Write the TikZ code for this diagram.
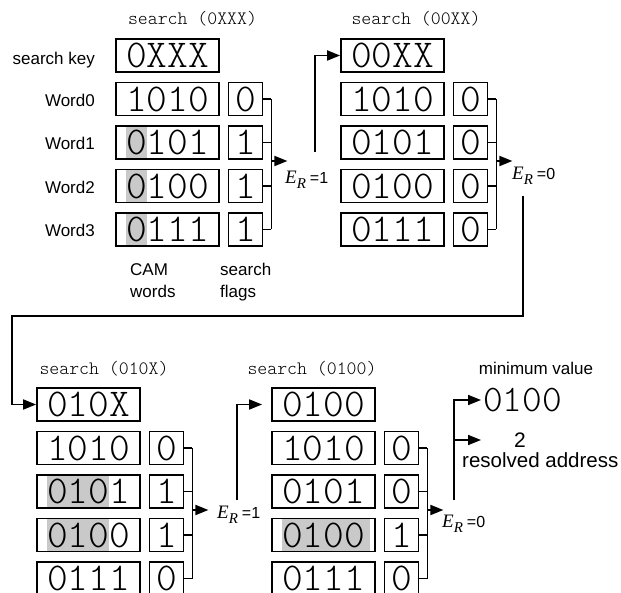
\documentclass[tikz,border=0pt]{standalone}
\usepackage{fontspec}
\setmainfont{Liberation Sans}
\newfontfamily\erfont{Liberation Serif}
\newfontfamily\camfamily{Latin Modern Mono Light}
\usetikzlibrary{arrows.meta}

% fonts
\newcommand\camfont{\camfamily\fontsize{39.4}{40}\selectfont}
\newcommand\resfont{\camfamily\fontsize{37.5}{38}\selectfont}
\newcommand\titlefont{\camfamily\fontsize{18.9}{20}\selectfont}
\newcommand\lblfont{\fontsize{17}{20}\selectfont}
\newcommand\er[1]{{\erfont\itshape\fontsize{19}{19}\selectfont E\raisebox{-4.5pt}{\fontsize{15}{15}\selectfont R}}\hspace{4pt}{\fontsize{16}{16}\selectfont =#1}}

% one CAM search step: #1 name prefix, #2 left x, #3 top y, #4 search key,
% #5 list of word/flag/shaded-width
\newcommand\campanel[5]{%
  \node[wordbox] (#1k) at (#2+51.5,#3+16.5) {#4};
  \foreach \w/\f/\h [count=\i from 0] in {#5} {
    \pgfmathsetmacro\cy{#3+16.5+43.5*(\i+1)}
    \ifdim\h pt>0pt
      \fill[hit] (#2+51.5-41.4,\cy-15.6) rectangle ++(\h,31.2);
    \fi
    \node[wordbox] (#1w\i) at (#2+51.5,\cy) {\w};
    \node[flagbox] (#1f\i) at (#2+129.5,\cy) {\f};
    \draw[wire] (#1f\i.east) -- ++(8,0) coordinate (#1t\i);
  }
  \draw[wire] (#1t0) -- (#1t3);
  \path (#1t1) ++(0,18.5) coordinate (#1bo) ++(16,0) coordinate (#1ao);
  \draw[conn] (#1bo) -- (#1ao);
}

\begin{document}
\begin{tikzpicture}[
  x=1pt, y=-1pt,
  wire/.style={line width=1.8pt},
  conn/.style={line width=1.8pt, -{Triangle[length=13pt,width=10pt]}},
  wordbox/.style={draw, line width=1.8pt, minimum width=103pt, minimum height=33pt, inner sep=0pt, font=\camfont},
  flagbox/.style={draw, line width=1.8pt, minimum width=34pt, minimum height=33pt, inner sep=0pt, font=\camfont},
  hit/.style={fill=black!21},
  lbl/.style={font=\lblfont, inner sep=0pt},
  title/.style={font=\titlefont, inner sep=0pt},
  erlbl/.style={anchor=west, inner sep=0pt},
]
\useasboundingbox (0,0) rectangle (621,593);

% step 1: search (0XXX)
\node[title] (t1) at (192.5,19) {search (0XXX)};
\campanel{a}{116}{39}{0XXX}{1010/0/0, 0101/1/21, 0100/1/21, 0111/1/21}
\node[lbl, anchor=east] (lkey) at (95,60) {search key};
\node[lbl, anchor=east] (l0) at (95,100) {Word0};
\node[lbl, anchor=east] (l1) at (95,143.5) {Word1};
\node[lbl, anchor=east] (l2) at (95,187) {Word2};
\node[lbl, anchor=east] (l3) at (95,230) {Word3};
\node[lbl, anchor=base west] (cam) at (130,276) {CAM};
\node[lbl, anchor=base west] (words) at (130,298) {words};
\node[lbl, anchor=base west] (srch) at (220,276) {search};
\node[lbl, anchor=base west] (flags) at (220,298) {flags};
\node[erlbl] (era) at (285,180) {\er{1}};

% step 2: search (00XX)
\node[title] (t2) at (416,19) {search (00XX)};
\campanel{b}{341}{39}{00XX}{1010/0/0, 0101/0/0, 0100/0/0, 0111/0/0}
\node[erlbl] (erb) at (512,176) {\er{0}};

% step 3: search (010X)
\node[title] (t3) at (104,369) {search (010X)};
\campanel{c}{37}{388}{010X}{1010/0/0, 0101/1/62, 0100/1/62, 0111/0/0}
\node[erlbl] (erc) at (217,515) {\er{1}};

% step 4: search (0100)
\node[title] (t4) at (312,369) {search (0100)};
\campanel{d}{272}{388}{0100}{1010/0/0, 0101/0/0, 0100/1/88, 0111/0/0}
\node[erlbl] (erd) at (442,524) {\er{0}};

% result
\node[lbl] (minv) at (536,368) {minimum value};
\node[anchor=west, inner sep=2pt, font=\resfont] (res) at (481,400) {0100};
\node[font=\fontsize{21}{21}\selectfont, inner sep=0pt] (addr) at (520,440) {2};
\node[anchor=west, inner sep=0pt, font=\fontsize{20.5}{22}\selectfont] (raddr) at (462,460) {resolved address};

% feedback connectors between steps
\coordinate (ab) at (315,152);
\draw[conn] (ab) |- (bk.west);
\coordinate (bc) at (523,196);
\coordinate (bcturn) at (12,316);
\draw[conn] (bc) |- (bcturn) |- (ck.west);
\coordinate (cd) at (237,500);
\draw[conn] (cd) |- ([xshift=-9pt]dk.west);
\coordinate (dr) at (454,500);
\coordinate (addrtip) at (481,440);
\draw[conn] (dr) |- (res.west);
\draw[conn] (dr |- addrtip) -- (addrtip);
\end{tikzpicture}
\end{document}
